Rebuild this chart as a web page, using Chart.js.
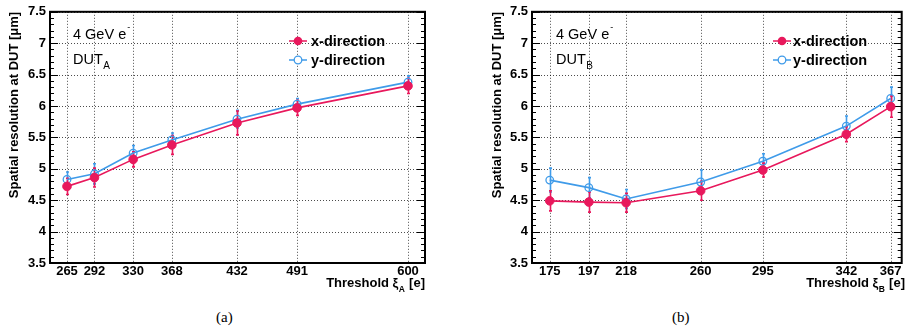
<!DOCTYPE html>
<html><head><meta charset="utf-8">
<script src="https://cdn.jsdelivr.net/npm/chart.js@4.4.0/dist/chart.umd.min.js"></script>
<style>
html,body{margin:0;padding:0;background:#fff;}
#wrap{position:relative;width:907px;height:335px;overflow:hidden;background:#fff;}
.box{position:absolute;top:0;height:300px;}
#boxA{left:0;width:453px;}
#boxB{left:455px;width:452px;}
.cap{position:absolute;top:308px;font:15px "Liberation Serif","Times New Roman",serif;color:#000;line-height:18px;}
</style></head><body>
<div id="wrap">
<div class="box" id="boxA"><canvas id="cA" width="453" height="300"></canvas></div>
<div class="box" id="boxB"><canvas id="cB" width="452" height="300"></canvas></div>
<div class="cap" style="left:216px">(a)</div>
<div class="cap" style="left:672px">(b)</div>
</div>
<script>
// ---------- data ----------
const thresholdsA = [265, 292, 330, 368, 432, 491, 600];
const xDirA       = [4.72, 4.86, 5.15, 5.38, 5.73, 5.97, 6.32];
const xDirErrA    = [0.13, 0.15, 0.12, 0.15, 0.19, 0.12, 0.12];
const yDirA       = [4.83, 4.92, 5.25, 5.46, 5.79, 6.03, 6.38];
const yDirErrA    = [0.12, 0.16, 0.12, 0.11, 0.14, 0.09, 0.10];

const thresholdsB = [175, 197, 218, 260, 295, 342, 367];
const xDirB       = [4.49, 4.47, 4.46, 4.65, 4.98, 5.55, 5.99];
const xDirErrB    = [0.16, 0.16, 0.15, 0.15, 0.11, 0.12, 0.17];
const yDirB       = [4.82, 4.70, 4.52, 4.79, 5.12, 5.68, 6.12];
const yDirErrB    = [0.19, 0.16, 0.15, 0.19, 0.12, 0.16, 0.18];

const yTickValues = [3.5, 4, 4.5, 5, 5.5, 6, 6.5, 7, 7.5];
const seriesNames = ['x-direction', 'y-direction'];
const yTitle = 'Spatial resolution at DUT [\u03bcm]';
const beamText = '4 GeV e';

// ---------- style ----------
const RED = '#e8185c';
const BLUE = '#3f9be9';
const SANS = '"Liberation Sans", Arial, Helvetica, sans-serif';

const rootStyle = {
  id: 'rootStyle',
  beforeDatasetsDraw(chart, args, o) {
    const {ctx, chartArea: a, scales: {x, y}} = chart;
    ctx.save();
    // dotted grid
    ctx.strokeStyle = 'rgba(0,0,0,0.7)';
    ctx.lineWidth = 1;
    ctx.setLineDash([1, 2]);
    yTickValues.forEach(v => {
      const py = Math.round(y.getPixelForValue(v)) + 0.5;
      ctx.beginPath(); ctx.moveTo(a.left, py); ctx.lineTo(a.right, py); ctx.stroke();
    });
    o.thresholds.forEach(v => {
      const px = Math.round(x.getPixelForValue(v)) + 0.5;
      ctx.beginPath(); ctx.moveTo(px, a.top); ctx.lineTo(px, a.bottom); ctx.stroke();
    });
    ctx.setLineDash([]);
    // minor / major ticks on y (inside frame, both sides)
    ctx.strokeStyle = '#000';
    ctx.lineWidth = 1;
    for (let k = 0; k <= 40; k++) {
      const v = 3.5 + k * 0.1;
      const py = Math.round(y.getPixelForValue(v)) + 0.5;
      const len = (k % 5 === 0) ? 8 : 4;
      ctx.beginPath();
      ctx.moveTo(a.left, py); ctx.lineTo(a.left + len, py);
      ctx.moveTo(a.right, py); ctx.lineTo(a.right - len, py);
      ctx.stroke();
    }
    // error bars (blue first, red on top)
    const drawErr = (vals, errs, color) => {
      ctx.strokeStyle = color;
      ctx.lineWidth = 1.6;
      o.thresholds.forEach((t, i) => {
        const px = Math.round(x.getPixelForValue(t)) + 0.5;
        const y1 = y.getPixelForValue(vals[i] - errs[i]);
        const y2 = y.getPixelForValue(vals[i] + errs[i]);
        ctx.beginPath();
        ctx.moveTo(px, y1); ctx.lineTo(px, y2);
        ctx.moveTo(px - 1.5, y1); ctx.lineTo(px + 1.5, y1);
        ctx.moveTo(px - 1.5, y2); ctx.lineTo(px + 1.5, y2);
        ctx.stroke();
      });
    };
    drawErr(o.yVals, o.yErr, BLUE);
    drawErr(o.xVals, o.xErr, RED);
    ctx.restore();
  },
  afterDatasetsDraw(chart, args, o) {
    const {ctx, chartArea: a} = chart;
    ctx.save();
    // frame
    ctx.strokeStyle = '#000';
    ctx.lineWidth = 2;
    ctx.strokeRect(a.left, a.top, a.right - a.left, a.bottom - a.top);
    // legend
    const colors = [RED, BLUE];
    seriesNames.forEach((name, i) => {
      const ly = o.legY[i];
      ctx.strokeStyle = colors[i];
      ctx.lineWidth = 1.5;
      ctx.beginPath(); ctx.moveTo(o.legX - 9, ly); ctx.lineTo(o.legX + 9, ly); ctx.stroke();
      ctx.beginPath(); ctx.arc(o.legX, ly, i === 0 ? 4.3 : 3.8, 0, Math.PI * 2);
      if (i === 0) { ctx.fillStyle = RED; ctx.fill(); }
      else { ctx.fillStyle = '#fff'; ctx.fill(); ctx.lineWidth = 1.3; ctx.stroke(); }
      ctx.fillStyle = '#000';
      ctx.font = 'bold 14.5px ' + SANS;
      ctx.textBaseline = 'middle';
      ctx.textAlign = 'left';
      ctx.fillText(name, o.legTextX, ly + 0.5);
    });
    // annotations
    ctx.textBaseline = 'alphabetic';
    ctx.font = '14.5px ' + SANS;
    ctx.fillText(beamText, o.annX, 39);
    let w = ctx.measureText(beamText).width;
    ctx.font = '9px ' + SANS;
    ctx.fillText('-', o.annX + w + 1, 30);
    ctx.font = '14.5px ' + SANS;
    ctx.fillText('DUT', o.annX, 64);
    w = ctx.measureText('DUT').width;
    ctx.font = '10px ' + SANS;
    ctx.fillText(o.sub, o.annX + w + 0.5, 69);
    // x title: "Threshold ξ_sub [e]" right aligned
    const f1 = 'bold 13px ' + SANS, fs = 'bold 8.5px ' + SANS;
    const p1 = 'Threshold \u03be', p2 = o.sub, p3 = ' [e]';
    ctx.font = f1; const w1 = ctx.measureText(p1).width, w3 = ctx.measureText(p3).width;
    ctx.font = fs; const w2 = ctx.measureText(p2).width;
    let sx = o.xTitleRight - (w1 + w2 + w3 + 1);
    ctx.font = f1; ctx.fillText(p1, sx, 287);
    ctx.font = fs; ctx.fillText(p2, sx + w1 + 0.5, 292);
    ctx.font = f1; ctx.fillText(p3, sx + w1 + w2 + 1, 287);
    ctx.restore();
  }
};

function makeChart(id, d) {
  return new Chart(document.getElementById(id), {
    type: 'scatter',
    data: {
      datasets: [
        {
          label: seriesNames[0],
          data: d.thresholds.map((t, i) => ({x: t, y: d.xVals[i]})),
          showLine: true,
          borderColor: RED, backgroundColor: RED,
          borderWidth: 1.6,
          pointRadius: 4.3, pointBorderWidth: 1, pointBackgroundColor: RED, pointBorderColor: RED
        },
        {
          label: seriesNames[1],
          data: d.thresholds.map((t, i) => ({x: t, y: d.yVals[i]})),
          showLine: true,
          borderColor: BLUE, backgroundColor: BLUE,
          borderWidth: 1.6,
          pointRadius: 3.8, pointBorderWidth: 1.3, pointBackgroundColor: 'rgba(255,255,255,0)', pointBorderColor: BLUE
        }
      ]
    },
    options: {
      responsive: false,
      animation: false,
      events: [],
      layout: {padding: {left: 0, right: d.padRight, top: 7, bottom: 0}},
      plugins: {
        legend: {display: false},
        tooltip: {enabled: false},
        rootStyle: d
      },
      scales: {
        x: {
          type: 'linear',
          min: d.xMin, max: d.xMax,
          grid: {display: false, drawTicks: false},
          border: {display: false},
          afterBuildTicks: s => { s.ticks = d.thresholds.map(v => ({value: v})); },
          afterFit: s => { s.height = 37; },
          ticks: {
            autoSkip: false, maxRotation: 0, padding: 1,
            color: '#000', font: {family: SANS, size: 13, weight: 'bold'},
            callback: v => String(v)
          }
        },
        y: {
          type: 'linear',
          min: 3.5, max: 7.5,
          grid: {display: false, drawTicks: false},
          border: {display: false},
          afterBuildTicks: s => { s.ticks = yTickValues.map(v => ({value: v})); },
          afterFit: s => { s.width = d.yAxisWidth; },
          ticks: {
            padding: 4,
            color: '#000', font: {family: SANS, size: 13, weight: 'bold'},
            callback: v => String(v)
          },
          title: {
            display: true, text: yTitle, align: 'end', color: '#000',
            font: {family: SANS, size: 13, weight: 'bold'},
            padding: {top: d.titlePad, bottom: 0}
          }
        }
      }
    },
    plugins: [rootStyle]
  });
}

makeChart('cA', {
  thresholds: thresholdsA, xVals: xDirA, xErr: xDirErrA, yVals: yDirA, yErr: yDirErrA,
  xMin: 248.3, xMax: 616.7, padRight: 28, yAxisWidth: 50, titlePad: 7,
  legX: 298, legTextX: 311, legY: [41, 60], annX: 73, sub: 'A', xTitleRight: 425
});
makeChart('cB', {
  thresholds: thresholdsB, xVals: xDirB, xErr: xDirErrB, yVals: yDirB, yErr: yDirErrB,
  xMin: 165, xMax: 373.2, padRight: 5, yAxisWidth: 77, titlePad: 35,
  legX: 327, legTextX: 338, legY: [41, 60], annX: 101, sub: 'B', xTitleRight: 450
});
</script>
</body></html>
